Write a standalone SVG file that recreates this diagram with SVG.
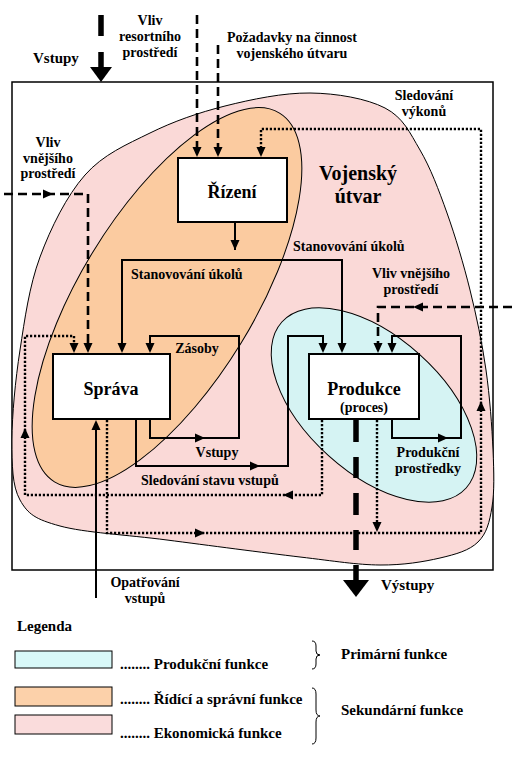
<svg xmlns="http://www.w3.org/2000/svg" width="525" height="761" viewBox="0 0 525 761">
<defs>
<style>
.t{font-family:"Liberation Serif","Times New Roman",serif;font-weight:bold;font-size:14px;fill:#000}
.c{text-anchor:middle}
.big{font-size:18px}
.hg{font-size:20px}
.lg{font-size:15px}
.sol{fill:none;stroke:#000;stroke-width:2}
.dsh{fill:none;stroke:#000;stroke-width:2.6;stroke-dasharray:9 5}
.dot{fill:none;stroke:#000;stroke-width:2.4;stroke-dasharray:2.2 1.8}
.thick{fill:none;stroke:#000;stroke-width:5.5}
.box{fill:#fff;stroke:#000;stroke-width:2}
.area{stroke:#000;stroke-width:1}
</style>
<path id="ah" d="M0,0 L-10,-4.5 L-10,4.5 Z"/>
</defs>
<rect width="525" height="761" fill="#fff"/>
<g id="frame">
<rect x="12" y="82" width="481" height="488" fill="#fff" stroke="#000" stroke-width="1.5"/>
</g>
<g id="areas">
<path id="ekonomicka" class="area" fill="#fad9d7" d="M310,93 C336.7,93.3 366.7,98.5 385,108 C403.3,117.5 409.7,132.5 420,150 C430.3,167.5 438.7,189.7 447,213 C455.3,236.3 463.5,263.8 470,290 C476.5,316.2 482.2,343.3 486,370 C489.8,396.7 492,427.2 493,450 C494,472.8 494.5,491.7 492,507 C489.5,522.3 486.7,533.5 478,542 C469.3,550.5 456.3,554.2 440,558 C423.7,561.8 403.3,565.2 380,565 C356.7,564.8 335.5,561.2 300,557 C264.5,552.8 207,545.2 167,540 C127,534.8 84.5,532.7 60,526 C35.5,519.3 28,514.3 20,500 C12,485.7 12,465 12,440 C12,415 15.3,380.5 20,350 C24.7,319.5 29.2,286.2 40,257 C50.8,227.8 66.7,195.7 85,175 C103.3,154.3 126.7,144.5 150,133 C173.3,121.5 198.3,112.7 225,106 C251.7,99.3 283.3,92.7 310,93 Z"/>
<ellipse id="ridici" class="area" fill="#fbcba0" cx="167" cy="297.5" rx="216" ry="87" transform="rotate(-58.6 167 297.5)"/>
<ellipse id="produkcni" class="area" fill="#d5f3f3" cx="374" cy="405" rx="124" ry="68" transform="rotate(42 374 405)"/>
</g>
<g id="connectors">
<path class="thick" d="M101,15 V36 M101,52 V68"/>
<polygon points="90,67 112,67 101,82"/>
<path class="dsh" d="M197,15 V148"/>
<use href="#ah" transform="translate(197,157) rotate(90)"/>
<path class="dsh" d="M218,45 V148"/>
<use href="#ah" transform="translate(218,157) rotate(90)"/>
<path class="dot" d="M107,420 V533 H481 V129 H261 V148"/>
<use href="#ah" transform="translate(261,157) rotate(90)"/>
<use href="#ah" transform="translate(205,533)"/>
<use href="#ah" transform="translate(481,401) rotate(-90)"/>
<path class="dot" d="M377,420 V523"/>
<use href="#ah" transform="translate(377,532) rotate(90)"/>
<path class="dot" d="M322,420 V495 H25 V336 H74 V344"/>
<use href="#ah" transform="translate(74,353) rotate(90)"/>
<use href="#ah" transform="translate(283,495) rotate(180)"/>
<use href="#ah" transform="translate(25,428) rotate(-90)"/>
<path class="dsh" d="M4,194 H88 V344"/>
<use href="#ah" transform="translate(53,194)"/>
<use href="#ah" transform="translate(88,353) rotate(90)"/>
<path class="sol" d="M235,222 V250 M122,344 V260 H342 V344"/>
<use href="#ah" transform="translate(235,250) rotate(90)"/>
<use href="#ah" transform="translate(122,353) rotate(90)"/>
<use href="#ah" transform="translate(342,353) rotate(90)"/>
<path class="sol" d="M150,419 V438 H239 V336 H150 V344"/>
<use href="#ah" transform="translate(150,353) rotate(90)"/>
<use href="#ah" transform="translate(205,438)"/>
<path class="sol" d="M136,419 V466 H288 V336 H323 V344"/>
<use href="#ah" transform="translate(323,353) rotate(90)"/>
<use href="#ah" transform="translate(260,466)"/>
<path class="sol" d="M392,419 V438 H461 V336 H392 V344"/>
<use href="#ah" transform="translate(392,353) rotate(90)"/>
<use href="#ah" transform="translate(448,438)"/>
<path class="dsh" d="M512,307 H378 V344"/>
<use href="#ah" transform="translate(378,353) rotate(90)"/>
<use href="#ah" transform="translate(413,307) rotate(180)"/>
<path class="sol" d="M96,598 V430"/>
<use href="#ah" transform="translate(96,420) rotate(-90)"/>
<path class="thick" d="M356,420 V442 M356,457 V478 M356,493 V515 M356,530 V550 M356,565 V581"/>
<polygon points="343,580 369,580 356,597"/>
</g>
<g id="rizeni">
<rect class="box" x="178" y="158" width="109" height="64"/>
<text class="t c big" x="232" y="198">Řízení</text>
</g>
<g id="sprava">
<rect class="box" x="53" y="354" width="117" height="65"/>
<text class="t c big" x="111" y="395">Správa</text>
</g>
<g id="produkce">
<rect class="box" x="309" y="354" width="110" height="65"/>
<text class="t c big" x="364" y="395">Produkce</text>
<text class="t c" x="364" y="412">(proces)</text>
</g>
<g id="labels">
<text class="t lg" x="33" y="63">Vstupy</text>
<text class="t c" x="150" y="25">Vliv</text>
<text class="t c" x="150" y="41">resortního</text>
<text class="t c" x="150" y="57">prostředí</text>
<text class="t c" x="292" y="42">Požadavky na činnost</text>
<text class="t c" x="292" y="58">vojenského útvaru</text>
<text class="t c" x="424" y="100">Sledování</text>
<text class="t c" x="424" y="116">výkonů</text>
<text class="t c" x="48" y="147">Vliv</text>
<text class="t c" x="48" y="163">vnějšího</text>
<text class="t c" x="48" y="178">prostředí</text>
<text class="t c hg" x="358" y="180">Vojenský</text>
<text class="t c hg" x="358" y="203">útvar</text>
<text class="t" x="293" y="251">Stanovování úkolů</text>
<text class="t" x="131" y="279">Stanovování úkolů</text>
<text class="t c" x="411" y="278">Vliv vnějšího</text>
<text class="t c" x="411" y="294">prostředí</text>
<text class="t c" x="197" y="353">Zásoby</text>
<text class="t c" x="217" y="457">Vstupy</text>
<text class="t" x="141" y="485">Sledování stavu vstupů</text>
<text class="t c" x="428" y="457">Produkční</text>
<text class="t c" x="428" y="473">prostředky</text>
<text class="t c" x="145" y="587">Opatřování</text>
<text class="t c" x="145" y="603">vstupů</text>
<text class="t lg" x="381" y="590">Výstupy</text>
</g>
<g id="legend">
<text class="t lg" x="17" y="631">Legenda</text>
<rect x="15" y="651" width="97" height="17" fill="#d8f8f8" stroke="#000" stroke-width="1"/>
<rect x="15" y="687" width="97" height="19" fill="#fcd1aa" stroke="#000" stroke-width="1"/>
<rect x="15" y="715" width="97" height="19" fill="#fadcdc" stroke="#000" stroke-width="1"/>
<text class="t lg" x="120" y="669">........ Produkční funkce</text>
<text class="t lg" x="120" y="704">........ Řídící a správní funkce</text>
<text class="t lg" x="120" y="738">........ Ekonomická funkce</text>
<path d="M312,641 Q316,641 316,646 V651 Q316,655 320,655 Q316,655 316,659 V664 Q316,669 312,669" fill="none" stroke="#000" stroke-width="1"/>
<path d="M312,688 Q316,688 316,694 V710 Q316,716 320,716 Q316,716 316,722 V738 Q316,744 312,744" fill="none" stroke="#000" stroke-width="1"/>
<text class="t lg" x="341" y="659">Primární funkce</text>
<text class="t lg" x="341" y="715">Sekundární funkce</text>
</g>
</svg>
